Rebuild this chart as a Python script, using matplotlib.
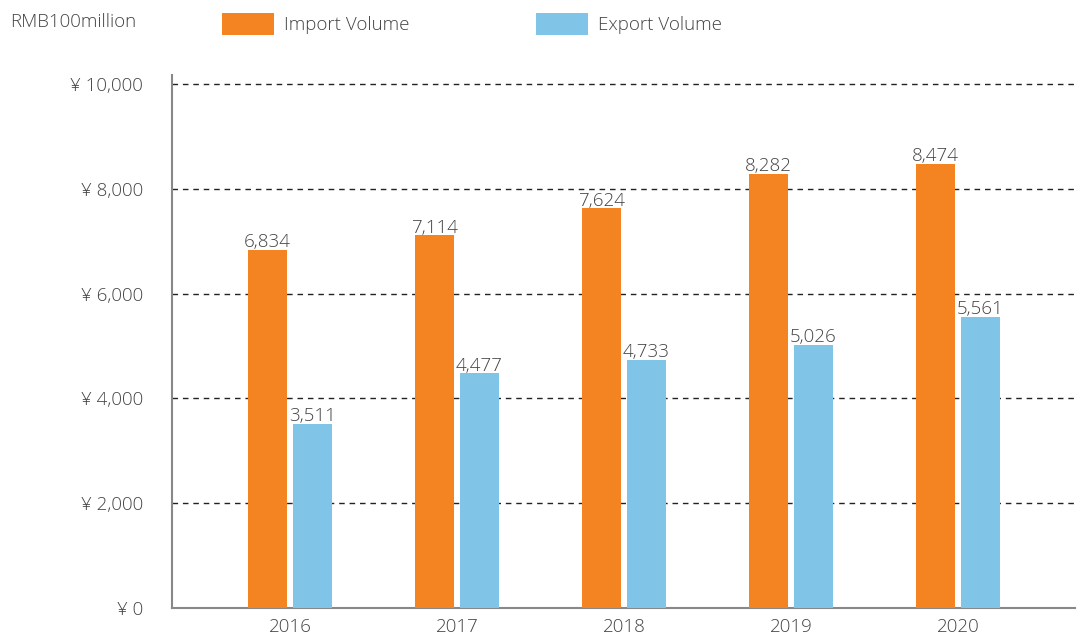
import matplotlib
matplotlib.use("Agg")
import matplotlib.pyplot as plt
import numpy as np

# Data
years = ["2016", "2017", "2018", "2019", "2020"]
import_volume = [6834, 7114, 7624, 8282, 8474]
export_volume = [3511, 4477, 4733, 5026, 5561]
y_ticks = [0, 2000, 4000, 6000, 8000, 10000]

ORANGE = "#F48322"
BLUE = "#80C5E7"
TEXT = "#444444"

plt.rcParams["font.family"] = ["Open Sans", "Noto Sans CJK JP", "DejaVu Sans"]
FS = 13.5


def yen(v):
    return "\u00a5 " + f"{v:,}"


def plot_chart():
    fig = plt.figure(figsize=(10.77, 6.38), dpi=100)
    ax = fig.add_axes([172 / 1077, 30 / 638, 903 / 1077, 533 / 638])

    x = np.arange(len(years))
    width = 0.2335
    offset = 0.1347

    b1 = ax.bar(x - offset, import_volume, width, color=ORANGE, label="Import Volume", zorder=3)
    b2 = ax.bar(x + offset, export_volume, width, color=BLUE, label="Export Volume", zorder=3)

    for bars, vals in ((b1, import_volume), (b2, export_volume)):
        for rect, v in zip(bars, vals):
            ax.annotate(f"{v:,}", (rect.get_x() + rect.get_width() / 2, rect.get_height()),
                        xytext=(0, -1), textcoords="offset points", ha="center", va="bottom",
                        fontsize=FS, color=TEXT, fontweight="light")

    ax.set_xlim(-0.707, 4.70)
    ax.set_ylim(0, 10170)
    ax.set_yticks(y_ticks)
    ax.set_yticklabels([yen(v) for v in y_ticks])
    ax.set_xticks(x)
    ax.set_xticklabels(years)
    ax.tick_params(axis="y", length=0, pad=21, labelsize=FS, labelcolor=TEXT)
    ax.tick_params(axis="x", length=0, pad=7, labelsize=FS, labelcolor=TEXT)
    for lab in ax.get_xticklabels() + ax.get_yticklabels():
        lab.set_fontweight("light")

    for v in y_ticks[1:]:
        ax.axhline(v, color="#222222", linewidth=1.0, linestyle=(0, (4, 3.5)), zorder=1)

    for s in ("top", "right"):
        ax.spines[s].set_visible(False)
    for s in ("left", "bottom"):
        ax.spines[s].set_color("#888888")
        ax.spines[s].set_linewidth(1.5)

    fig.text(10 / 1077, 1 - 22 / 638, "RMB100million", fontsize=FS, color=TEXT,
             va="center", ha="left", fontweight="light")

    fig.legend(handles=[b1, b2], loc="center left", bbox_to_anchor=(222 / 1077, 1 - 24 / 638),
               ncol=2, frameon=False, handlelength=2.75, handleheight=1.45,
               handletextpad=0.55, columnspacing=6.75, borderpad=0, borderaxespad=0,
               labelcolor=TEXT, prop={"weight": "light", "size": FS})

    fig.savefig("out.png", dpi=100)


if __name__ == "__main__":
    plot_chart()
